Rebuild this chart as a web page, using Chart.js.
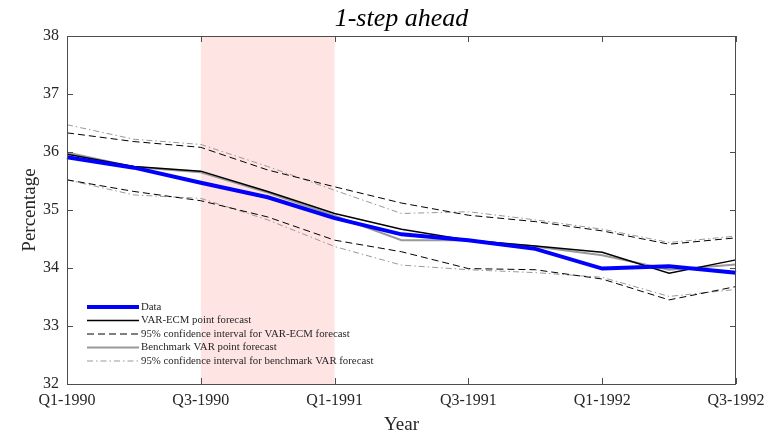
<!DOCTYPE html>
<html>
<head>
<meta charset="utf-8">
<script src="https://cdn.jsdelivr.net/npm/chart.js@4.4.0/dist/chart.umd.min.js"></script>
<style>
html,body{margin:0;padding:0;background:#fff;}
#wrap{width:782px;height:436px;}
</style>
</head>
<body>
<div id="wrap"><canvas id="c" width="782" height="436"></canvas></div>
<script>
const quarters = ['Q1-1990','Q2-1990','Q3-1990','Q4-1990','Q1-1991','Q2-1991','Q3-1991','Q4-1991','Q1-1992','Q2-1992','Q3-1992'];
const dataSeries   = [35.91, 35.73, 35.47, 35.22, 34.86, 34.58, 34.48, 34.33, 33.99, 34.03, 33.92];
const varEcm       = [35.96, 35.75, 35.67, 35.32, 34.94, 34.67, 34.48, 34.38, 34.27, 33.91, 34.14];
const varEcmUpper  = [36.33, 36.18, 36.08, 35.69, 35.40, 35.12, 34.91, 34.80, 34.64, 34.41, 34.52];
const varEcmLower  = [35.52, 35.32, 35.16, 34.88, 34.48, 34.28, 33.99, 33.97, 33.81, 33.45, 33.68];
const bench        = [35.99, 35.74, 35.65, 35.30, 34.90, 34.48, 34.48, 34.37, 34.22, 33.97, 34.06];
const benchUpper   = [36.47, 36.22, 36.13, 35.75, 35.34, 34.94, 34.97, 34.83, 34.67, 34.44, 34.55];
const benchLower   = [35.52, 35.26, 35.20, 34.83, 34.37, 34.05, 33.97, 33.92, 33.84, 33.51, 33.63];
const yTicks = [32, 33, 34, 35, 36, 37, 38];
const shadeStart = 'Q3-1990';
const shadeEnd = 'Q1-1991';
const titleText = '1-step ahead';
const legendLabels = ['Data','VAR-ECM point forecast','95% confidence interval for VAR-ECM forecast','Benchmark VAR point forecast','95% confidence interval for benchmark VAR forecast'];

const SERIF = '"Liberation Serif", "Times New Roman", serif';
const TXT = '#262626';

const styles = [
  {color:'#0000ff', width:4, dash:[]},
  {color:'#000000', width:1.5, dash:[]},
  {color:'#000000', width:1, dash:[7,4]},
  {color:'#999999', width:2, dash:[]},
  {color:'#999999', width:1, dash:[6,3,1.5,3]}
];

function ds(label, values, st, order) {
  return {label, data: values, borderColor: st.color, borderWidth: st.width, borderDash: st.dash,
    pointRadius: 0, fill: false, tension: 0, order};
}

const datasets = [
  ds(legendLabels[2], varEcmUpper, styles[2], 5),
  ds(legendLabels[2], varEcmLower, styles[2], 5),
  ds(legendLabels[4], benchUpper, styles[4], 6),
  ds(legendLabels[4], benchLower, styles[4], 6),
  ds(legendLabels[3], bench, styles[3], 3),
  ds(legendLabels[1], varEcm, styles[1], 2),
  ds(legendLabels[0], dataSeries, styles[0], 1)
];

const decor = {
  id: 'decor',
  beforeDatasetsDraw(chart) {
    const {ctx, chartArea: a, scales: {x}} = chart;
    const x0 = x.getPixelForValue(quarters.indexOf(shadeStart));
    const x1 = x.getPixelForValue(quarters.indexOf(shadeEnd));
    ctx.save();
    ctx.fillStyle = '#ffe4e4';
    ctx.fillRect(x0, a.top, x1 - x0, a.bottom - a.top);
    ctx.restore();
  },
  afterDatasetsDraw(chart) {
    const {ctx, chartArea: a, scales: {x, y}} = chart;
    ctx.save();
    ctx.strokeStyle = '#4d4d4d';
    ctx.lineWidth = 1;
    ctx.setLineDash([]);
    ctx.strokeRect(Math.round(a.left)+0.5, Math.round(a.top)+0.5, Math.round(a.right-a.left)-1, Math.round(a.bottom-a.top));
    const tl = 6;
    ctx.beginPath();
    quarters.forEach((q, i) => {
      if (i % 2 !== 0) return;
      const px = Math.round(x.getPixelForValue(i)) + 0.5;
      ctx.moveTo(px, a.bottom); ctx.lineTo(px, a.bottom - tl);
      ctx.moveTo(px, a.top); ctx.lineTo(px, a.top + tl);
    });
    yTicks.forEach(v => {
      const py = Math.round(y.getPixelForValue(v)) + 0.5;
      ctx.moveTo(a.left, py); ctx.lineTo(a.left + tl, py);
      ctx.moveTo(a.right, py); ctx.lineTo(a.right - tl, py);
    });
    ctx.stroke();

    // legend
    const lx0 = 87, lx1 = 139, tx = 141;
    const rows = [307, 320.5, 334, 347.5, 361];
    ctx.font = '10.8px ' + SERIF;
    ctx.textBaseline = 'middle';
    ctx.fillStyle = TXT;
    legendLabels.forEach((lab, i) => {
      const st = styles[i];
      ctx.beginPath();
      ctx.strokeStyle = st.color;
      ctx.lineWidth = st.width;
      ctx.setLineDash(st.dash);
      ctx.moveTo(lx0, rows[i]); ctx.lineTo(lx1, rows[i]);
      ctx.stroke();
      ctx.fillText(lab, tx, rows[i]);
    });
    ctx.setLineDash([]);

    // title
    ctx.font = 'italic 26px ' + SERIF;
    ctx.textAlign = 'center';
    ctx.textBaseline = 'middle';
    ctx.fillStyle = '#000';
    ctx.fillText(titleText, (a.left + a.right) / 2, 19);
    ctx.restore();
  }
};

new Chart(document.getElementById('c'), {
  type: 'line',
  data: {labels: quarters, datasets},
  options: {
    responsive: false,
    animation: false,
    layout: {padding: {top: 36, right: 46, bottom: 0, left: 0}},
    plugins: {legend: {display: false}, title: {display: false}, tooltip: {enabled: false}},
    scales: {
      x: {
        type: 'category',
        offset: false,
        grid: {display: false, drawTicks: false},
        border: {display: false},
        ticks: {
          autoSkip: false, maxRotation: 0, padding: 7, color: TXT,
          font: {family: SERIF, size: 16},
          callback: function(v, i) { return i % 2 === 0 ? quarters[i] : ''; }
        },
        title: {display: true, text: 'Year', color: TXT, font: {family: SERIF, size: 19}, padding: {top: 2, bottom: 0}},
        afterFit(s) { s.height = 52; }
      },
      y: {
        min: 32, max: 38,
        grid: {display: false, drawTicks: false},
        border: {display: false},
        ticks: {stepSize: 1, padding: 8, color: TXT, font: {family: SERIF, size: 16}},
        title: {display: true, text: 'Percentage', color: TXT, font: {family: SERIF, size: 19}, padding: {top: 19, bottom: 0}},
        afterFit(s) { s.width = 67; }
      }
    }
  },
  plugins: [decor]
});
</script>
</body>
</html>
